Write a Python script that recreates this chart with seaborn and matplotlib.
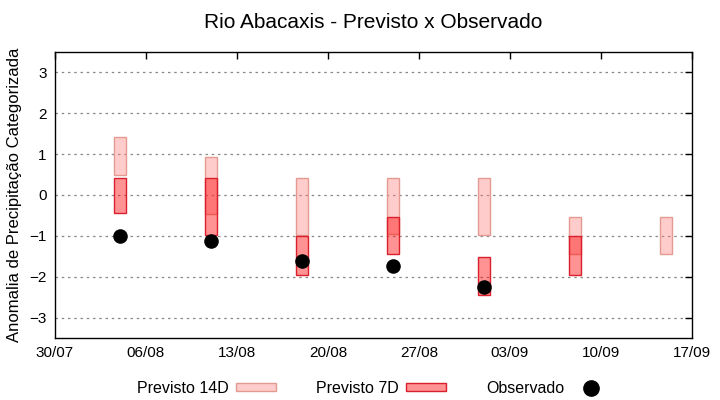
import pandas as pd
import numpy as np
import matplotlib
matplotlib.use('Agg')
import matplotlib.pyplot as plt
import matplotlib.dates as mdates
from matplotlib.patches import Rectangle
from matplotlib.lines import Line2D
import seaborn as sns

# data
datas = ['2020-08-04', '2020-08-11', '2020-08-18', '2020-08-25',
         '2020-09-01', '2020-09-08', '2020-09-15']
prev14_min = [0.50, -0.47, -0.97, -0.96, -0.97, -1.45, -1.45]
prev14_max = [1.42, 0.93, 0.42, 0.42, 0.42, -0.53, -0.53]
prev7_min = [-0.45, -0.97, -1.96, -1.45, -2.45, -1.96, np.nan]
prev7_max = [0.42, 0.42, -1.00, -0.53, -1.52, -1.00, np.nan]
observado = [-1.00, -1.12, -1.62, -1.73, -2.24, np.nan, np.nan]
xticks = pd.date_range('2020-07-30', '2020-09-17', freq='7D')

df = pd.DataFrame({'data': pd.to_datetime(datas),
                   'p14_min': prev14_min, 'p14_max': prev14_max,
                   'p7_min': prev7_min, 'p7_max': prev7_max,
                   'obs': observado})

sns.set_style('white')
plt.rcParams['font.family'] = ['Liberation Sans', 'DejaVu Sans']
plt.rcParams['text.color'] = 'black'
plt.rcParams['axes.labelcolor'] = 'black'

fig, ax = plt.subplots(figsize=(7.2, 4), dpi=100)
fig.subplots_adjust(left=0.0764, right=0.961, bottom=0.155, top=0.87)

c14_face = (1, 0.5, 0.5, 0.4)
c14_edge = '#e39a90'
c7_face = (1, 0.05, 0.05, 0.45)
c7_edge = '#d9202c'

ax.bar(df['data'], df['p14_max'] - df['p14_min'], bottom=df['p14_min'], width=0.9,
       color=c14_face, edgecolor=c14_edge, linewidth=1, zorder=3)
ax.bar(df['data'], df['p7_max'] - df['p7_min'], bottom=df['p7_min'], width=0.9,
       color=c7_face, edgecolor=c7_edge, linewidth=1, zorder=4)
sns.scatterplot(data=df, x='data', y='obs', color='black', s=110, edgecolor='black',
                linewidth=0, zorder=5, ax=ax)

ax.set_xlim(xticks[0], xticks[-1])
ax.set_ylim(-3.5, 3.5)
ax.set_xticks(xticks)
ax.xaxis.set_major_formatter(mdates.DateFormatter('%d/%m'))
ax.set_yticks(range(-3, 4))
ax.tick_params(direction='in', length=5, width=1, top=True, right=True,
               labelsize=11, colors='black', pad=6)
ax.tick_params(axis='y', labelright=False)
ax.yaxis.grid(True, color='#888888', linestyle=(0, (2, 3)), linewidth=0.9)
ax.xaxis.grid(False)
for s in ax.spines.values():
    s.set_color('black')
    s.set_linewidth(1)
ax.set_xlabel('')
ax.set_ylabel('Anomalia de Precipitação Categorizada', fontsize=12, labelpad=5)
ax.set_title('Rio Abacaxis - Previsto x Observado', fontsize=15, pad=17)

handles = [Rectangle((0, 0), 1, 1, facecolor=c14_face, edgecolor=c14_edge),
           Rectangle((0, 0), 1, 1, facecolor=c7_face, edgecolor=c7_edge),
           Line2D([], [], color='black', marker='o', linestyle='', markersize=11)]
fig.legend(handles, ['Previsto 14D', 'Previsto 7D', 'Observado'], loc='lower center',
           ncol=3, markerfirst=False, frameon=False, fontsize=11.5,
           handlelength=2.5, handleheight=0.4, handletextpad=0.45, columnspacing=2.5,
           bbox_to_anchor=(0.52, -0.025))

fig.savefig('out.png', dpi=100)
